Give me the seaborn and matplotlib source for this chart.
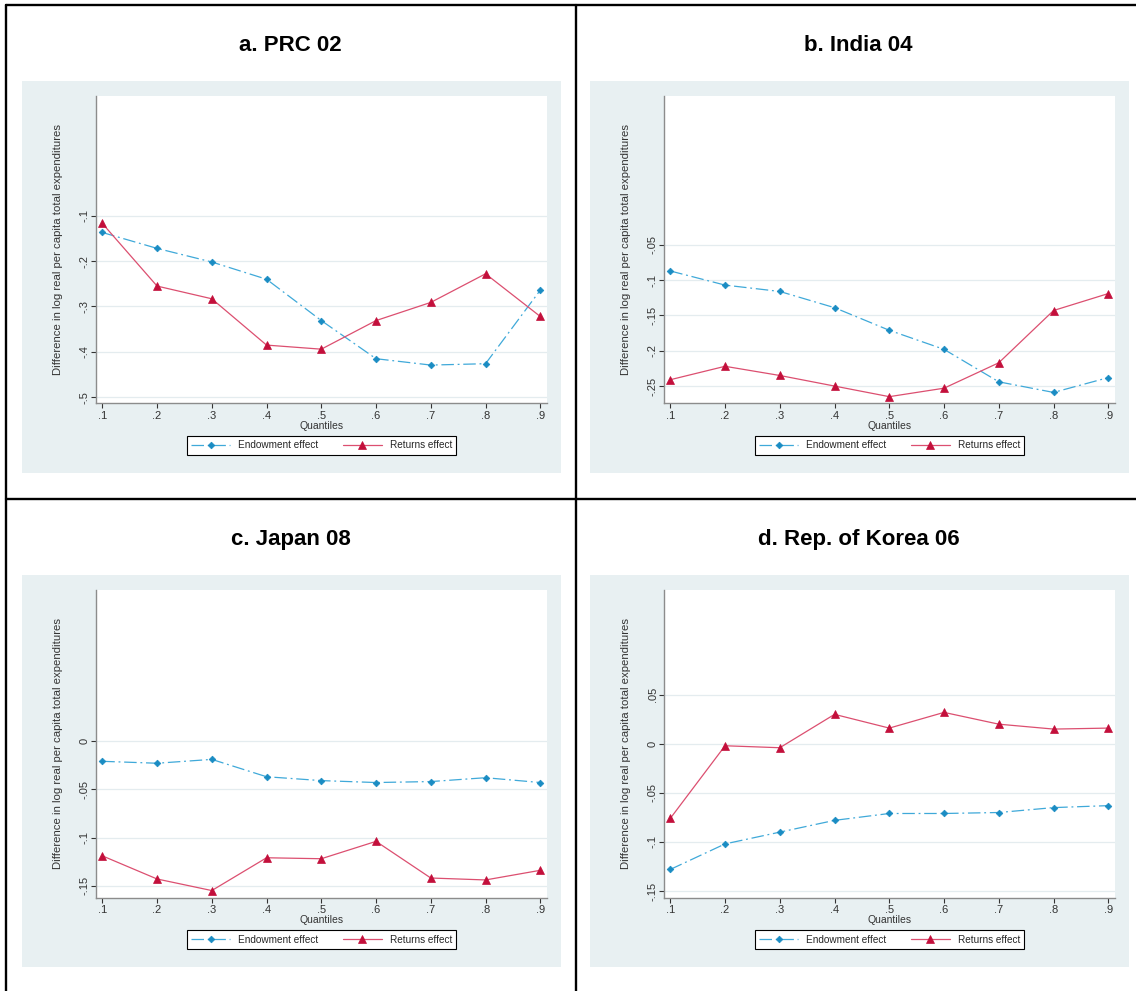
import numpy as np
import pandas as pd
import matplotlib
matplotlib.use("Agg")
import matplotlib.pyplot as plt
import seaborn as sns
from matplotlib.patches import Rectangle
from matplotlib.lines import Line2D

# ----------------------------------------------------------
# DATA
# ----------------------------------------------------------
quantiles = [0.1, 0.2, 0.3, 0.4, 0.5, 0.6, 0.7, 0.8, 0.9]
quantile_labels = [".1", ".2", ".3", ".4", ".5", ".6", ".7", ".8", ".9"]

prc_endow = [-0.137, -0.172, -0.202, -0.240, -0.331, -0.415, -0.429, -0.426, -0.264]
prc_returns = [-0.117, -0.255, -0.283, -0.385, -0.394, -0.331, -0.291, -0.228, -0.322]

india_endow = [-0.087, -0.107, -0.116, -0.139, -0.171, -0.198, -0.244, -0.259, -0.238]
india_returns = [-0.241, -0.222, -0.235, -0.250, -0.265, -0.253, -0.217, -0.143, -0.119]

japan_endow = [-0.021, -0.023, -0.019, -0.037, -0.041, -0.043, -0.042, -0.038, -0.043]
japan_returns = [-0.119, -0.143, -0.155, -0.121, -0.122, -0.104, -0.142, -0.144, -0.134]

korea_endow = [-0.128, -0.102, -0.090, -0.078, -0.071, -0.071, -0.070, -0.065, -0.063]
korea_returns = [-0.076, -0.002, -0.004, 0.030, 0.016, 0.032, 0.020, 0.015, 0.016]

titles = ["a. PRC 02", "b. India 04", "c. Japan 08", "d. Rep. of Korea 06"]

prc_yticks = [-0.5, -0.4, -0.3, -0.2, -0.1]
prc_ylabels = ["-.5", "-.4", "-.3", "-.2", "-.1"]
india_yticks = [-0.25, -0.2, -0.15, -0.1, -0.05]
india_ylabels = ["-.25", "-.2", "-.15", "-.1", "-.05"]
japan_yticks = [-0.15, -0.1, -0.05, 0.0]
japan_ylabels = ["-.15", "-.1", "-.05", "0"]
korea_yticks = [-0.15, -0.1, -0.05, 0.0, 0.05]
korea_ylabels = ["-.15", "-.1", "-.05", "0", ".05"]

YLABEL = "Difference in log real per capita total expenditures"
XLABEL = "Quantiles"

# ----------------------------------------------------------
# STYLE
# ----------------------------------------------------------
sns.set_theme(style="white")
plt.rcParams["font.family"] = ["Liberation Sans", "DejaVu Sans"]

BG = "#E8F0F2"
GRID = "#E4ECEF"
BLUE_LINE = "#3FA9D9"
BLUE_MARK = "#1A8CC3"
RED_LINE = "#DC4F70"
RED_MARK = "#C30F3B"
AXIS = "#8C8C8C"
TXT = "#333333"

W, H = 1136, 991


def fx(x):
    return x / W


def fy(y):
    return 1 - y / H


fig = plt.figure(figsize=(W / 100, H / 100), dpi=100)
fig.patch.set_facecolor("white")

panels = [
    (titles[0], prc_endow, prc_returns, prc_yticks, prc_ylabels, (-0.5132, 0.1636), 0, 0),
    (titles[1], india_endow, india_returns, india_yticks, india_ylabels, (-0.2744, 0.1608), 568, 0),
    (titles[2], japan_endow, japan_returns, japan_yticks, japan_ylabels, (-0.1623, 0.1563), 0, 494.3),
    (titles[3], korea_endow, korea_returns, korea_yticks, korea_ylabels, (-0.1567, 0.1564), 568, 494.3),
]

for title, endow, returns, yticks, ylabels, ylim, ox, oy in panels:
    # grey graph region
    fig.add_artist(Rectangle((fx(22 + ox), fy(472.5 + oy)),
                             (561 - 22) / W, (472.5 - 80.7) / H,
                             transform=fig.transFigure, facecolor=BG,
                             edgecolor="none", zorder=-1))
    # panel title
    fig.text(fx(290.5 + ox), fy(45.5 + oy), title, ha="center", va="center",
             fontsize=16, fontweight="bold", color="black")

    ax = fig.add_axes([fx(96 + ox), fy(403.3 + oy), 450.7 / W, 307.3 / H])
    ax.set_facecolor("white")

    df = pd.DataFrame({"quantile": quantiles, "endow": endow, "returns": returns})

    sns.lineplot(data=df, x="quantile", y="endow", ax=ax, sort=False,
                 color=BLUE_LINE, lw=0.9, linestyle=(0, (10, 3, 1.5, 3)),
                 marker="D", markersize=3.4, markerfacecolor=BLUE_MARK,
                 markeredgecolor=BLUE_MARK, markeredgewidth=0.5,
                 label="Endowment effect")
    sns.lineplot(data=df, x="quantile", y="returns", ax=ax, sort=False,
                 color=RED_LINE, lw=0.9,
                 marker="^", markersize=6, markerfacecolor=RED_MARK,
                 markeredgecolor=RED_MARK, markeredgewidth=0.5,
                 label="Returns effect")

    ax.set_xlim(0.0885, 0.9117)
    ax.set_ylim(*ylim)
    ax.set_xticks(quantiles)
    ax.set_xticklabels(quantile_labels)
    ax.set_yticks(yticks)
    ax.set_yticklabels(ylabels, rotation=90, va="center")

    ax.grid(axis="y", color=GRID, lw=0.9)
    ax.grid(axis="x", visible=False)
    ax.set_axisbelow(True)

    for side in ["top", "right"]:
        ax.spines[side].set_visible(False)
    for side in ["left", "bottom"]:
        ax.spines[side].set_color(AXIS)
        ax.spines[side].set_linewidth(1.0)

    ax.tick_params(axis="both", which="major", bottom=True, left=True,
                   length=3.6, width=0.8, color=TXT, labelsize=8,
                   labelcolor=TXT, pad=2.0)
    ax.tick_params(axis="y", pad=1.0)

    ax.set_xlabel(XLABEL, fontsize=7.5, color=TXT, va="center")
    ax.xaxis.set_label_coords(0.5, -0.073)
    ax.set_ylabel(YLABEL, fontsize=8.2, color=TXT, va="center")
    ax.yaxis.set_label_coords(-0.085, 0.5)

    leg = ax.legend(loc="center", bbox_to_anchor=(0.5006, -0.137), ncol=2,
                    fontsize=7.2, frameon=True, fancybox=False,
                    edgecolor="black", framealpha=1, borderpad=0.45,
                    handlelength=3.9, handletextpad=0.8, columnspacing=2.4,
                    borderaxespad=0)
    leg.get_frame().set_linewidth(0.8)

# table border lines
BORDER_LW = 1.7
fig.add_artist(Line2D([fx(6.2), fx(W)], [fy(5), fy(5)], transform=fig.transFigure,
                      color="black", lw=BORDER_LW, zorder=5))
fig.add_artist(Line2D([fx(6.2), fx(6.2)], [fy(5), fy(H)], transform=fig.transFigure,
                      color="black", lw=BORDER_LW, zorder=5))
fig.add_artist(Line2D([fx(575.5), fx(575.5)], [fy(5), fy(H)], transform=fig.transFigure,
                      color="black", lw=BORDER_LW, zorder=5))
fig.add_artist(Line2D([fx(6.2), fx(W)], [fy(499.3), fy(499.3)], transform=fig.transFigure,
                      color="black", lw=BORDER_LW, zorder=5))

fig.savefig("out.png", dpi=100)
